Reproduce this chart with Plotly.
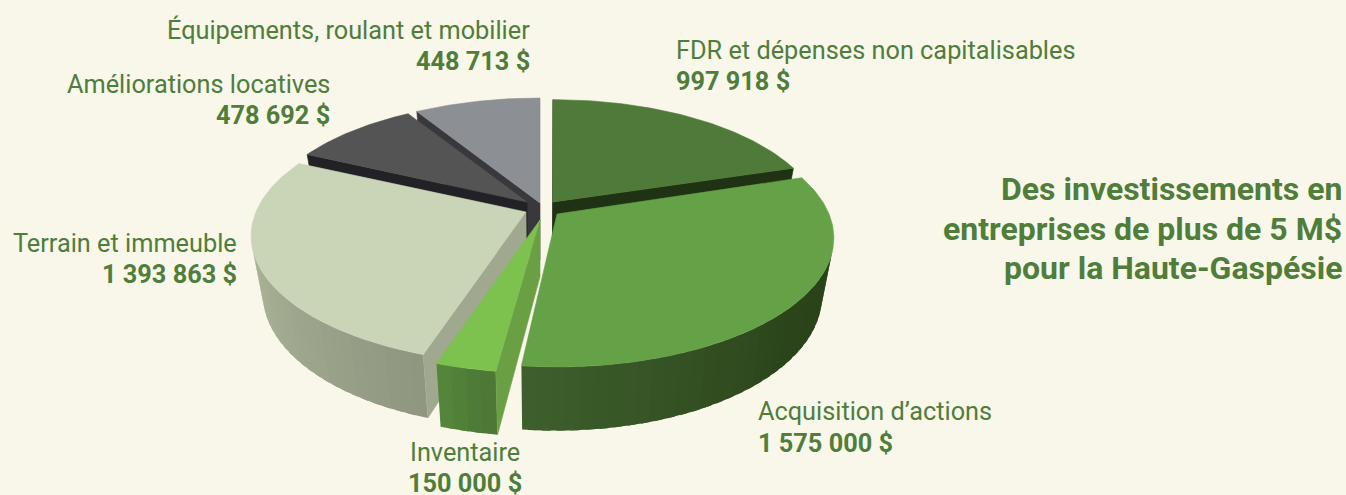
import math
import plotly.graph_objects as go

# --- data ---
categories = ["FDR et dépenses non capitalisables", "Acquisition d’actions", "Inventaire",
              "Terrain et immeuble", "Améliorations locatives", "Équipements, roulant et mobilier"]
values = [997918, 1575000, 150000, 1393863, 478692, 448713]

# --- styles ---
apex = [(553, 202), (557, 214), (540, 220), (526, 212), (527, 202), (540, 203)]
radius_scale = [0.975, 1.0, 1.0, 0.993, 0.965, 1.0]
warp = [5.0, 2.5, 4.0, 4.0, 5.0, 5.0]
top_colors = ["#4f7a39", "#65a146", "#7dc14e", "#cad5b8", "#545454", "#8c8f93"]
radial_colors = ["#1f3214", "#2b451a", "#6aa043", "#a0a890", "#222226", "#38383d"]
outer_colors = [("#1f3214", "#1f3214", "#1f3214"), ("#26401a", "#2b441a", "#3e5f2d"),
                ("#4c7636", "#4f7d38", "#56883c"), ("#8f9680", "#a7b094", "#b9c1a8"),
                ("#222226", "#222226", "#222226"), ("#38383d", "#38383d", "#38383d")]
draw_order = [5, 0, 4, 3, 2, 1]
BG = "#f9f6ea"
TXT = "#4f7d3a"
R, K, F, H = 272.0, 124.5 / 272.0, 5.38 * 272.0, 57.0
CX, CY, SHRINK = 540.0, 210.0, 0.96


def hex2rgb(c):
    return tuple(int(c[i:i + 2], 16) for i in (1, 3, 5))


def mix(stops, t):
    t = max(0.0, min(1.0, t)) * 2
    a, b = (stops[0], stops[1]) if t <= 1 else (stops[1], stops[2])
    t = t if t <= 1 else t - 1
    ra, rb = hex2rgb(a), hex2rgb(b)
    return "#%02x%02x%02x" % tuple(round(ra[i] + (rb[i] - ra[i]) * t) for i in range(3))


def rim(ang, i, bottom=False):
    ap = apex[i]
    th = math.radians(ang + warp[i] * math.sin(math.radians(ang) / 2) ** 2)
    Y = R * math.cos(th)
    s = F / (F + Y)
    x = ap[0] + radius_scale[i] * R * math.sin(th) * s
    y = ap[1] - radius_scale[i] * K * R * math.cos(th) * s
    return lower(x, y, s) if bottom else (x, y)


def lower(x, y, s=1.0):
    return (CX + (x - CX) * SHRINK, CY + (y - CY) * SHRINK + H * s)


def area(p):
    return sum(p[i][0] * p[(i + 1) % len(p)][1] - p[(i + 1) % len(p)][0] * p[i][1] for i in range(len(p)))


def poly(points, color, lw=0.6):
    xs = [p[0] for p in points] + [points[0][0]]
    ys = [p[1] for p in points] + [points[0][1]]
    return go.Scatter(x=xs, y=ys, mode="lines", fill="toself", fillcolor=color,
                      line=dict(color=color, width=lw), hoverinfo="skip", showlegend=False)


total = sum(values)
starts, ang = [], 0.0
for v in values:
    starts.append(ang)
    ang += v / total * 360

fig = go.Figure()
for i in draw_order:
    a0 = starts[i]
    a1 = a0 + values[i] / total * 360
    ap = apex[i]
    ap_b = lower(ap[0], ap[1], 1.0)
    # outer wall strips, each overlapping the next to hide seams
    n = max(4, int((a1 - a0) / 2.5))
    for k in range(n):
        u, w = a0 + (a1 - a0) * k / n, a0 + (a1 - a0) * (k + 1) / n
        q = [rim(u, i), rim(w, i), rim(w, i, True), rim(u, i, True)]
        if area(q) < 0:
            w2 = min(a1, w + 1.5)
            q = [rim(u, i), rim(w2, i), rim(w2, i, True), rim(u, i, True)]
            fig.add_trace(poly(q, mix(outer_colors[i], (k + 0.5) / n), 0))
    # radial walls
    q0 = [ap, rim(a0, i), rim(a0, i, True), ap_b]
    if area(q0) < 0:
        fig.add_trace(poly(q0, radial_colors[i]))
    q1 = [rim(a1, i), ap, ap_b, rim(a1, i, True)]
    if area(q1) < 0:
        fig.add_trace(poly(q1, radial_colors[i]))
    # top face
    m = max(8, int(a1 - a0))
    face = [ap] + [rim(a0 + (a1 - a0) * k / m, i) for k in range(m + 1)]
    fig.add_trace(poly(face, top_colors[i]))

label_pos = [(673.5, 50, "left"), (756, 411.5, "left"), (465, 452, "center"),
             (239, 243, "right"), (332, 84, "right"), (532, 30, "right")]
FS_L, FS_V = 25.3, 25.3
for c, v, (x, y, al) in zip(categories, values, label_pos):
    fig.add_annotation(x=x, y=y, text=c, showarrow=False, xanchor=al, yanchor="middle",
                       font=dict(family="Roboto", size=FS_L, color=TXT), xref="x", yref="y")
    txt = f"{v:,}".replace(",", " ") + " $"
    fig.add_annotation(x=x, y=y + 31.5, text=f"<b>{txt}</b>", showarrow=False, xanchor=al, yanchor="middle",
                       font=dict(family="Roboto", size=FS_V, color=TXT), xref="x", yref="y")

title_lines = ["Des investissements en", "entreprises de plus de 5 M$", "pour la Haute-Gaspésie"]
for line, y in zip(title_lines, [189, 229, 268]):
    fig.add_annotation(x=1344, y=y, text=f"<b>{line}</b>", showarrow=False, xanchor="right", yanchor="middle",
                       font=dict(family="Roboto", size=32, color=TXT), xref="x", yref="y")

fig.update_layout(width=1346, height=495, margin=dict(l=0, r=0, t=0, b=0),
                  paper_bgcolor=BG, plot_bgcolor=BG, showlegend=False,
                  xaxis=dict(range=[0, 1346], visible=False, fixedrange=True),
                  yaxis=dict(range=[495, 0], visible=False, fixedrange=True))
fig.write_html("out.html", config=dict(displayModeBar=False),
               post_script="document.body.style.margin='0';document.body.style.overflow='hidden';document.body.style.background='" + BG + "';")
